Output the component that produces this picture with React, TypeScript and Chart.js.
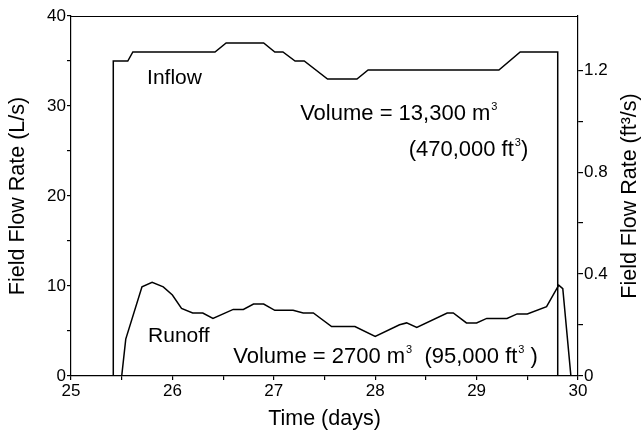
import React, { useEffect, useRef } from 'react';
import { Chart, registerables } from 'chart.js';

Chart.register(...registerables);

// ---- data ----
const inflowDays = [25.417, 25.417, 25.56, 25.61, 26.42, 26.53, 26.9, 27.01, 27.09, 27.21, 27.3, 27.53, 27.82, 27.93, 29.22, 29.43, 29.8, 29.8];
const inflowRate = [0, 35, 35, 36, 36, 37, 37, 36, 36, 35, 35, 33, 33, 34, 34, 36, 36, 0];

const runoffDays = [25.5, 25.54, 25.7, 25.8, 25.91, 26.0, 26.09, 26.2, 26.3, 26.4, 26.6, 26.7, 26.8, 26.9, 27.01, 27.19, 27.29, 27.39, 27.57, 27.8, 28.0, 28.24, 28.31, 28.41, 28.71, 28.77, 28.9, 29.0, 29.1, 29.3, 29.4, 29.5, 29.69, 29.81, 29.85, 29.93];
const runoffRate = [0, 4.1, 9.9, 10.4, 9.9, 9.0, 7.5, 7.0, 7.0, 6.4, 7.4, 7.4, 8.0, 8.0, 7.3, 7.3, 7.0, 7.0, 5.5, 5.5, 4.4, 5.7, 5.9, 5.4, 7.0, 7.0, 5.9, 5.9, 6.4, 6.4, 6.9, 6.9, 7.7, 10.1, 9.7, 0];

const xTickValues = [25, 25.5, 26, 26.5, 27, 27.5, 28, 28.5, 29, 29.5, 30];
const xTickLabels = ['25', '', '26', '', '27', '', '28', '', '29', '', '30'];
const leftTickValues = [0, 5, 10, 15, 20, 25, 30, 35, 40];
const leftTickLabels = ['0', '', '10', '', '20', '', '30', '', '40'];
const rightTickValues = [0, 0.2, 0.4, 0.6, 0.8, 1.0, 1.2];
const rightTickLabels = ['0', '', '0.4', '', '0.8', '', '1.2'];

const LPS_TO_CFS = 0.0353147;
const X_MIN = 25;
const X_MAX = 30;
const Y_MAX = 40;

const FONT = '"Liberation Sans", Arial, Helvetica, sans-serif';

type Seg = { t: string; sup?: boolean };
const annotations: { day: number; rate: number; size: number; segs: Seg[] }[] = [
  { day: 25.75, rate: 32.4, size: 21, segs: [{ t: 'Inflow' }] },
  { day: 27.26, rate: 28.4, size: 22, segs: [{ t: 'Volume = 13,300 m' }, { t: '3', sup: true }] },
  { day: 28.33, rate: 24.4, size: 22, segs: [{ t: '(470,000 ft' }, { t: '3', sup: true }, { t: ')' }] },
  { day: 25.76, rate: 3.8, size: 21, segs: [{ t: 'Runoff' }] },
  { day: 26.6, rate: 1.5, size: 22, segs: [{ t: 'Volume = 2700 m' }, { t: '3', sup: true }, { t: '  (95,000 ft' }, { t: '3', sup: true }, { t: ' )' }] },
];

const decorPlugin = {
  id: 'decor',
  afterDraw(chart: any) {
    const { ctx, chartArea, scales } = chart;
    const { left, right, top, bottom } = chartArea;
    ctx.save();
    // top frame line
    ctx.strokeStyle = '#000';
    ctx.lineWidth = 1.2;
    ctx.beginPath();
    ctx.moveTo(left, top + 0.5);
    ctx.lineTo(right, top + 0.5);
    ctx.stroke();

    ctx.fillStyle = '#000';
    // axis titles
    ctx.font = `21.5px ${FONT}`;
    ctx.textAlign = 'center';
    ctx.textBaseline = 'middle';
    ctx.save();
    ctx.translate(18, (top + bottom) / 2);
    ctx.rotate(-Math.PI / 2);
    ctx.fillText('Field Flow Rate (L/s)', 0, 0);
    ctx.restore();

    ctx.save();
    ctx.translate(630, (top + bottom) / 2);
    ctx.rotate(-Math.PI / 2);
    ctx.fillText('Field Flow Rate (ft\u00B3/s)', 0, 0);
    ctx.restore();

    ctx.textBaseline = 'alphabetic';
    ctx.fillText('Time (days)', (left + right) / 2, 425);

    // annotations
    ctx.textAlign = 'left';
    for (const a of annotations) {
      let x = scales.x.getPixelForValue(a.day);
      const y = scales.y.getPixelForValue(a.rate);
      for (const s of a.segs) {
        if (s.sup) {
          ctx.font = `11px ${FONT}`;
          ctx.fillText(s.t, x + 1, y - 10);
          x += ctx.measureText(s.t).width + 1;
        } else {
          ctx.font = `${a.size}px ${FONT}`;
          ctx.fillText(s.t, x, y);
          x += ctx.measureText(s.t).width;
        }
      }
    }
    ctx.restore();
  },
};

function labelFrom(values: number[], labels: string[]) {
  return (v: number) => {
    const i = values.findIndex((t) => Math.abs(t - v) < 1e-6);
    return i >= 0 ? labels[i] : '';
  };
}

export default function App() {
  const ref = useRef<HTMLCanvasElement | null>(null);

  useEffect(() => {
    if (!ref.current) return;
    const tickFont = { family: FONT, size: 17 };
    const axisGrid = {
      drawOnChartArea: false,
      drawTicks: true,
      color: '#000',
      lineWidth: 1.2,
    };
    const chart = new Chart(ref.current, {
      type: 'line',
      data: {
        datasets: [
          {
            label: 'Inflow',
            data: inflowDays.map((d, i) => ({ x: d, y: inflowRate[i] })),
            borderColor: '#000',
            borderWidth: 1.5,
            pointRadius: 0,
            tension: 0,
            fill: false,
            yAxisID: 'y',
          },
          {
            label: 'Runoff',
            data: runoffDays.map((d, i) => ({ x: d, y: runoffRate[i] })),
            borderColor: '#000',
            borderWidth: 1.5,
            pointRadius: 0,
            tension: 0,
            fill: false,
            yAxisID: 'y',
          },
        ],
      },
      options: {
        responsive: false,
        animation: false,
        events: [],
        layout: { padding: { top: 16, left: 0, right: 0, bottom: 0 } },
        plugins: { legend: { display: false }, tooltip: { enabled: false }, title: { display: false } },
        scales: {
          x: {
            type: 'linear',
            min: X_MIN,
            max: X_MAX,
            afterBuildTicks: (s: any) => { s.ticks = xTickValues.map((v) => ({ value: v })); },
            afterFit: (s: any) => { s.height = 55; },
            ticks: { font: tickFont, color: '#000', padding: 1, autoSkip: false, maxRotation: 0, callback: labelFrom(xTickValues, xTickLabels) },
            grid: { ...axisGrid, tickLength: 4 },
            border: { display: true, color: '#000', width: 1.2 },
          },
          y: {
            type: 'linear',
            position: 'left',
            min: 0,
            max: Y_MAX,
            afterBuildTicks: (s: any) => { s.ticks = leftTickValues.map((v) => ({ value: v })); },
            afterFit: (s: any) => { s.width = 71; },
            ticks: { font: tickFont, color: '#000', padding: 1, callback: labelFrom(leftTickValues, leftTickLabels) },
            grid: { ...axisGrid, tickLength: 4 },
            border: { display: true, color: '#000', width: 1.2 },
          },
          y2: {
            type: 'linear',
            position: 'right',
            min: 0,
            max: Y_MAX * LPS_TO_CFS,
            afterBuildTicks: (s: any) => { s.ticks = rightTickValues.map((v) => ({ value: v })); },
            afterFit: (s: any) => { s.width = 64; },
            ticks: { font: tickFont, color: '#000', padding: 1, callback: labelFrom(rightTickValues, rightTickLabels) },
            grid: { ...axisGrid, tickLength: 5 },
            border: { display: true, color: '#000', width: 1.2 },
          },
        },
      },
      plugins: [decorPlugin],
    } as any);
    return () => chart.destroy();
  }, []);

  return (
    <div style={{ position: 'fixed', left: 0, top: 0, width: 642, height: 431, background: '#fff' }}>
      <canvas ref={ref} width={642} height={431} style={{ display: 'block' }} />
    </div>
  );
}
